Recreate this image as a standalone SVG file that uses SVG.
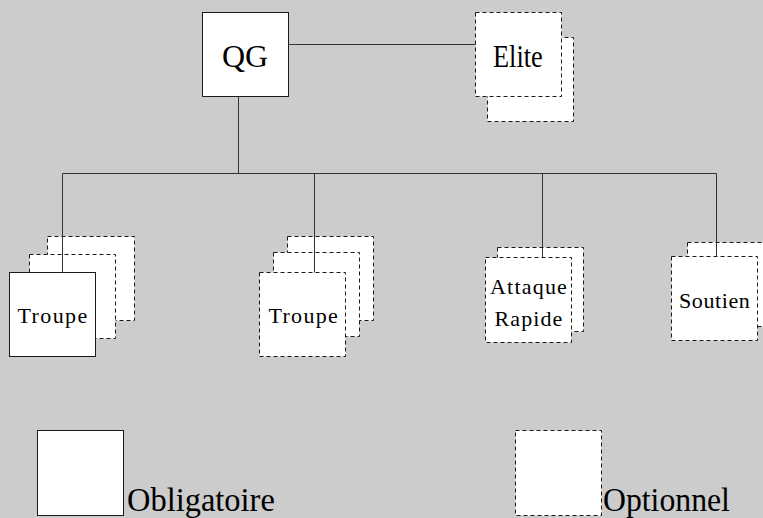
<svg xmlns="http://www.w3.org/2000/svg" width="763" height="518" viewBox="0 0 763 518">
<style>
.solid{fill:#ffffff;stroke:#1a1a1a;stroke-width:1}
.dash{fill:#ffffff;stroke:#1a1a1a;stroke-width:1;stroke-dasharray:4 3}
.conn{stroke:#333333;stroke-width:1;fill:none}
</style>
<rect x="0" y="0" width="763" height="518" fill="#cccccc"/>
<g id="node-qg">
<rect class="solid" x="202.5" y="12.5" width="86" height="84"/>
<text font-family="Times New Roman, Liberation Serif, serif" font-size="32" x="222" y="66.5">QG</text>
</g>
<g id="node-elite">
<rect class="dash" x="487.5" y="37.5" width="86" height="84"/>
<rect class="dash" x="475.5" y="12.5" width="86" height="84"/>
<text font-family="Times New Roman, Liberation Serif, serif" font-size="31" transform="translate(493,66.5) scale(0.85,1)">Elite</text>
</g>
<g id="node-troupe1">
<rect class="dash" x="47.5" y="236.5" width="87" height="84"/>
<rect class="dash" x="29.5" y="254.5" width="86" height="84"/>
<rect class="solid" x="9.5" y="272.5" width="86" height="84"/>
<text font-family="Times New Roman, Liberation Serif, serif" font-size="22" letter-spacing="1.4" x="17.5" y="323">Troupe</text>
</g>
<g id="node-troupe2">
<rect class="dash" x="287.5" y="236.5" width="86" height="84"/>
<rect class="dash" x="273.5" y="252.5" width="86" height="84"/>
<rect class="dash" x="259.5" y="272.5" width="86" height="84"/>
<text font-family="Times New Roman, Liberation Serif, serif" font-size="22" letter-spacing="1.3" x="268.5" y="323">Troupe</text>
</g>
<g id="node-attaque">
<rect class="dash" x="497.5" y="247.5" width="86" height="84"/>
<rect class="dash" x="485.5" y="257.5" width="86" height="85"/>
<text font-family="Times New Roman, Liberation Serif, serif" font-size="22" letter-spacing="1.2" x="490" y="294">Attaque</text>
<text font-family="Times New Roman, Liberation Serif, serif" font-size="22" letter-spacing="1.1" x="494.5" y="325.5">Rapide</text>
</g>
<g id="node-soutien">
<rect class="dash" x="687.5" y="242.5" width="86" height="84"/>
<rect class="dash" x="671.5" y="256.5" width="86" height="84"/>
<text font-family="Times New Roman, Liberation Serif, serif" font-size="22" letter-spacing="0.6" x="679" y="308">Soutien</text>
</g>
<g id="connectors">
<line class="conn" x1="288.5" y1="44.5" x2="475.5" y2="44.5"/>
<line class="conn" x1="238.5" y1="96.5" x2="238.5" y2="173.5"/>
<line class="conn" x1="62.5" y1="173.5" x2="716.5" y2="173.5"/>
<line class="conn" x1="62.5" y1="173.5" x2="62.5" y2="272.5"/>
<line class="conn" x1="314.5" y1="173.5" x2="314.5" y2="272.5"/>
<line class="conn" x1="542.5" y1="173.5" x2="542.5" y2="257.5"/>
<line class="conn" x1="716.5" y1="173.5" x2="716.5" y2="256.5"/>
</g>
<g id="legend-obligatoire">
<rect class="solid" x="37.5" y="430.5" width="86" height="85"/>
<text font-family="Times New Roman, Liberation Serif, serif" font-size="34" transform="translate(127,511) scale(0.955,1)">Obligatoire</text>
</g>
<g id="legend-optionnel">
<rect class="dash" x="515.5" y="430.5" width="86" height="85"/>
<text font-family="Times New Roman, Liberation Serif, serif" font-size="34" transform="translate(603,511) scale(0.934,1)">Optionnel</text>
</g>
</svg>
